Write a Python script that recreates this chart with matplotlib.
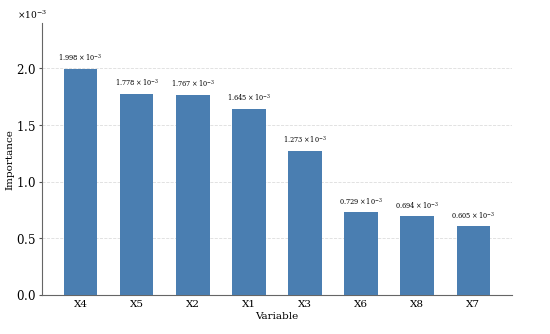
import matplotlib
matplotlib.use("Agg")
import matplotlib.pyplot as plt
from matplotlib.ticker import ScalarFormatter

variables = ["X4", "X5", "X2", "X1", "X3", "X6", "X8", "X7"]
importance = [1.998e-3, 1.778e-3, 1.767e-3, 1.645e-3, 1.273e-3, 0.729e-3, 0.694e-3, 0.605e-3]

plt.rcParams['font.family'] = ['DejaVu Serif']
plt.rcParams['mathtext.fontset'] = 'dejavuserif'

fig, ax = plt.subplots(figsize=(5.5, 3.34), dpi=100)
fig.subplots_adjust(left=0.077, right=0.93, top=0.93, bottom=0.117)

x = range(len(variables))
bars = ax.bar(x, importance, width=0.6, color="#4a7eb1", zorder=3)
ax.set_xticks(list(x))
ax.set_xticklabels(variables, fontsize=7.5)
ax.set_ylim(0, max(importance) * 1.2)
ax.yaxis.grid(True, linestyle="--", color="#dddddd", linewidth=0.6, zorder=0)
ax.set_axisbelow(True)

fmt = ScalarFormatter(useMathText=True)
fmt.set_powerlimits((-2, 2))
ax.yaxis.set_major_formatter(fmt)
ax.yaxis.get_offset_text().set_fontsize(6.5)
ax.yaxis.get_offset_text().set_x(-0.055)
ax.tick_params(axis='y', labelsize=8.5, length=2.5, color="#555555", pad=2)
ax.tick_params(axis='x', length=0)

for s in ["top", "right"]:
    ax.spines[s].set_visible(False)
for s in ["left", "bottom"]:
    ax.spines[s].set_color("#666666")
    ax.spines[s].set_linewidth(0.8)

for xi, v in zip(x, importance):
    mant = v * 1e3
    ax.text(xi, v + max(importance) * 0.02, r"$%.3f\times10^{-3}$" % mant,
            ha="center", va="bottom", fontsize=4.8)

ax.set_xlabel("Variable", fontsize=7.5, labelpad=2)
ax.set_ylabel("Importance", fontsize=7.5, labelpad=1)

fig.savefig("out.png", dpi=100)
